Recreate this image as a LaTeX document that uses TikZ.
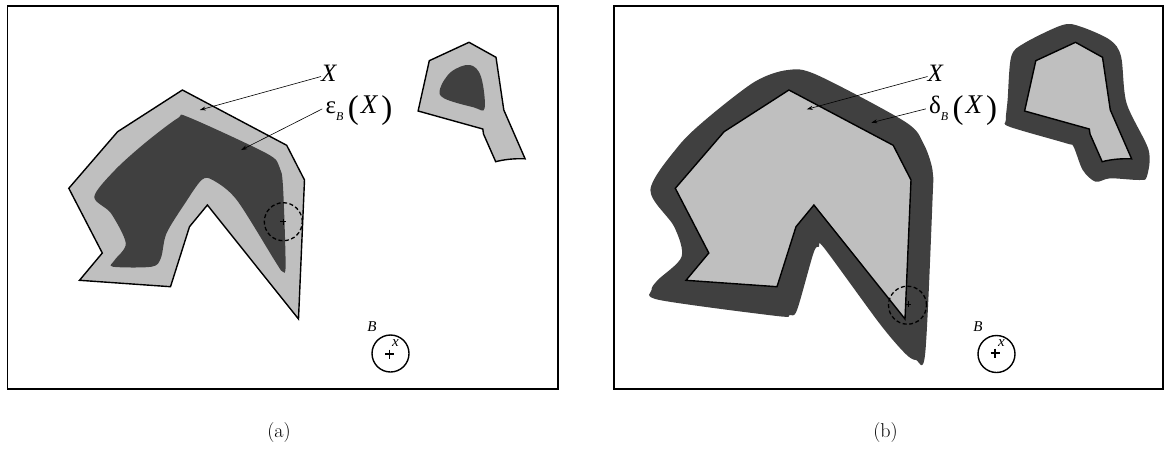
\documentclass[tikz,border=0pt]{standalone}
\usepackage{fontspec}
\newfontfamily\lab{Liberation Serif}
\usetikzlibrary{arrows.meta}
\definecolor{lgray}{gray}{0.75}
\definecolor{dgray}{gray}{0.25}
\newcommand{\polyX}[1]{\path[#1] (182.4,90) -- (117.6,131.7) -- (68.8,188.3) -- (102.3,253) -- (79.5,280.3) -- (170.5,286.7) -- (189.5,226.7) -- (207.4,205) -- (298.5,319) -- (304.5,180) -- (286.7,145.3) -- cycle;}
\newcommand{\polyS}[1]{\path[#1] (429.3,60.7) -- (469,42.3) -- (496,57.3) -- (503.8,110) -- (525.1,158.8) .. controls (512,158.3) and (502,160) .. (495.7,161.7) -- (483.5,134) -- (482.8,129) -- (418.1,111) -- cycle;}
\newcommand{\mlab}[1]{{\lab\fontsize{25}{30}\selectfont #1}\raisebox{-6.7pt}{\lab\fontsize{12}{14}\selectfont\itshape B}\hspace{4.5pt}\raisebox{-5pt}{\lab\fontsize{33}{38}\selectfont (}\hspace{2pt}{\lab\fontsize{27}{32}\selectfont\itshape X}\hspace{4pt}\raisebox{-5pt}{\lab\fontsize{33}{38}\selectfont )}}
\tikzset{
  framebox/.style={draw=black, line width=1.5pt},
  shapeX/.style={fill=lgray, draw=black, line width=1.4pt},
  arr/.style={line width=0.6pt, -{Stealth[length=6pt,width=4pt,inset=2pt]}},
  probe/.style={circle, draw=black, dash pattern=on 4pt off 2.5pt, line width=1.3pt, minimum size=38pt, inner sep=0pt},
  selem/.style={circle, draw=black, line width=1.4pt, minimum size=37pt, inner sep=0pt},
  xlab/.style={anchor=base west, inner sep=0pt, font=\lab\fontsize{25}{30}\selectfont\itshape},
  smalllab/.style={inner sep=0pt, font=\lab\fontsize{15}{18}\selectfont\itshape},
  captxt/.style={inner sep=0pt, font=\fontsize{20}{24}\selectfont}
}
\begin{document}
\begin{tikzpicture}[x=1pt,y=-1pt]
\useasboundingbox (0,0) rectangle (1164,450);
% ---------------- panel (a): erosion
\begin{scope}
\draw[framebox] (7.5,6) rectangle (558,389);
\polyX{shapeX}
\fill[dgray] plot[smooth cycle, tension=0.5] coordinates {
 (94.3,196.7) (115,170) (145,143) (177.6,118.3) (188.7,117.3) (266.4,153.3)
 (279.3,166.7) (283,186.7) (285.6,265) (282.5,271.5) (275.6,262)
 (236.8,200) (212.7,180) (201.6,180) (185,203.3) (166.5,233.3) (160.9,258)
 (151.7,266.7) (112.8,266.7) (114.7,260) (125.8,243.3) (111,213.3)};
\polyS{shapeX}
\fill[dgray] plot[smooth cycle, tension=0.6] coordinates {
 (469.8,65) (481,76.7) (484.6,108.3) (473.5,107.3) (444,98.3) (440.2,88.3) (451.3,71.7)};
\node[probe] (pa) at (283.3,221.7) {};
\draw[line width=0.6pt] (280.3,221.7) -- (286.3,221.7) (283.3,218.7) -- (283.3,224.7);
\node[xlab] (lXa) at (321,81.7) {X};
\node[anchor=base west, inner sep=0pt] (lEa) at (325.3,113.3) {\mlab{ε}};
\coordinate (ta1) at (199.8,110);
\coordinate (ta2) at (241.2,150);
\draw[arr] ([yshift=-3pt]lXa.west) -- (ta1);
\draw[arr] ([xshift=-3pt,yshift=1.5pt]lEa.west) -- (ta2);
\node[selem] (Ba) at (390.5,353.5) {};
\draw[line width=1.6pt] (385,354) -- (394,354) (389.5,349.5) -- (389.5,358.5);
\node[smalllab] (lBa) at (372,327) {B};
\node[smalllab] (lxa) at (395.5,343.5) {x};
\node[captxt] (capa) at (279,433) {(a)};
\end{scope}
% ---------------- panel (b): dilation
\draw[framebox] (614,6) rectangle (1163,389);
\begin{scope}[xshift=606.5pt]
\fill[dgray] plot[smooth cycle, tension=0.5] coordinates {
 (43.9,190) (71.4,146.7) (100.7,118.3) (148.3,81.7) (181.3,70) (210.6,75)
 (298.5,121.7) (316.8,143.3) (326,170) (326,200) (318.7,353.3) (309.5,360)
 (298.5,353.3) (272.9,323.3) (217.9,248.3) (212.4,246.7) (206.9,253.3)
 (190.5,310) (183.1,315) (170.3,316) (53.1,300) (45,290) (51.3,280)
 (75.1,256.7) (67.7,226.7)};
\fill[dgray] plot[smooth cycle, tension=0.5] coordinates {
 (404.7,56.7) (417.6,43.3) (456,25) (474.3,26.7) (503.6,40) (514.6,56.7)
 (520.1,103.3) (542.1,150) (540.3,176.7) (532.9,180) (503.6,178.3) (489,181.7)
 (476.2,170) (467,146.7) (459.7,143.3) (402.9,126.7) (399.3,120) (401.1,100)};
\polyX{shapeX}
\polyS{shapeX}
\node[probe] (pb) at (301,305.2) {};
\draw[line width=0.6pt] (298.8,304.3) -- (304.8,304.3) (301.8,301.3) -- (301.8,307.3);
\node[xlab] (lXb) at (321,81.7) {X};
\node[anchor=base west, inner sep=0pt] (lDb) at (322.3,113.3) {\mlab{δ}};
\coordinate (tb1) at (200.4,109.3);
\coordinate (tb2) at (264.8,122.7);
\draw[arr] ([yshift=-3pt]lXb.west) -- (tb1);
\draw[arr] ([xshift=-3pt,yshift=1.5pt]lDb.west) -- (tb2);
\node[selem] (Bb) at (390,354) {};
\draw[line width=1.6pt] (384,353) -- (393,353) (388.5,348.5) -- (388.5,357.5);
\node[smalllab] (lBb) at (371.5,327) {B};
\node[smalllab] (lxb) at (395,343) {x};
\node[captxt] (capb) at (279,433) {(b)};
\end{scope}
\end{tikzpicture}
\end{document}
